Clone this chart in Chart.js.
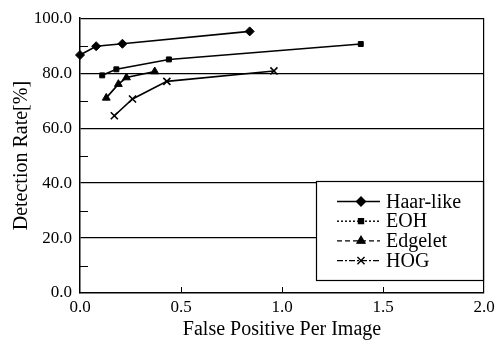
<!DOCTYPE html>
<html>
<head>
<meta charset="utf-8">
<script src="https://cdn.jsdelivr.net/npm/chart.js@4/dist/chart.umd.min.js"></script>
<style>
  html, body { margin: 0; padding: 0; background: #fff; }
  #wrap { width: 503px; height: 345px; }
</style>
</head>
<body>
<div id="wrap"><canvas id="chart" width="503" height="345"></canvas></div>
<script>
// values
const seriesNames = ['Haar-like', 'EOH', 'Edgelet', 'HOG'];
const haarX = [0.0, 0.08, 0.21, 0.84];
const haarY = [86.6, 89.8, 90.7, 95.2];
const eohX = [0.11, 0.18, 0.44, 1.39];
const eohY = [79.2, 81.4, 85.0, 90.6];
const edgeletX = [0.13, 0.19, 0.23, 0.37];
const edgeletY = [71.0, 76.0, 78.4, 80.6];
const hogX = [0.17, 0.26, 0.43, 0.96];
const hogY = [64.5, 70.6, 77.0, 80.8];
const xTicks = [0, 0.5, 1.0, 1.5, 2.0];
const yTicks = [0, 20, 40, 60, 80, 100];

const serif = "'Liberation Serif', 'DejaVu Serif', serif";
const styles = [
  { point: 'rectRot', radius: 4.5, dash: [] },
  { point: 'rect', radius: 3.5, dash: [2, 2] },
  { point: 'triangle', radius: 4.5, dash: [5, 3] },
  { point: 'crossRot', radius: 5, dash: [6, 2, 2, 2] }
];

function pts(xs, ys) {
  return xs.map((x, i) => ({ x: x, y: ys[i] }));
}
const allX = [haarX, eohX, edgeletX, hogX];
const allY = [haarY, eohY, edgeletY, hogY];

const datasets = seriesNames.map((name, i) => ({
  label: name,
  data: pts(allX[i], allY[i]),
  showLine: true,
  borderColor: '#000',
  backgroundColor: '#000',
  borderWidth: 1.6,
  pointStyle: styles[i].point,
  pointRadius: styles[i].radius,
  pointBorderWidth: styles[i].point === 'crossRot' ? 1.6 : 1,
  clip: false
}));

// inner tick marks + legend box
const extras = {
  id: 'extras',
  afterDraw(chart) {
    const ctx = chart.ctx;
    const xs = chart.scales.x, ys = chart.scales.y;
    const area = chart.chartArea;
    ctx.save();
    ctx.strokeStyle = '#000';
    ctx.lineWidth = 1;
    [10, 30, 50, 70, 90].forEach(v => {
      const y = Math.round(ys.getPixelForValue(v)) + 0.5;
      ctx.beginPath();
      ctx.moveTo(area.left, y);
      ctx.lineTo(area.left + 8, y);
      ctx.stroke();
    });
    [0.5, 1.0, 1.5].forEach(v => {
      const x = Math.round(xs.getPixelForValue(v)) + 0.5;
      ctx.beginPath();
      ctx.moveTo(x, area.bottom);
      ctx.lineTo(x, area.bottom - 6);
      ctx.stroke();
    });

    // legend
    const bx = 316.5, by = 181.5, bw = 167, bh = 99;
    ctx.fillStyle = '#fff';
    ctx.fillRect(bx, by, bw, bh);
    ctx.lineWidth = 1.2;
    ctx.strokeRect(bx, by, bw, bh);
    ctx.font = '20px ' + serif;
    ctx.textBaseline = 'middle';
    ctx.textAlign = 'left';
    seriesNames.forEach((name, i) => {
      const y = 201.5 + i * 19.7;
      ctx.setLineDash(styles[i].dash);
      ctx.lineWidth = 1.4;
      ctx.beginPath();
      ctx.moveTo(337, y);
      ctx.lineTo(380, y);
      ctx.stroke();
      ctx.setLineDash([]);
      Chart.helpers.drawPoint(ctx, {
        pointStyle: styles[i].point,
        radius: styles[i].radius,
        borderWidth: styles[i].point === 'crossRot' ? 1.6 : 1
      }, 361, y);
      ctx.fillStyle = '#000';
      ctx.fill();
      ctx.fillText(name, 386, y + 1);
    });
    ctx.restore();
  }
};

new Chart(document.getElementById('chart'), {
  type: 'scatter',
  data: { datasets: datasets },
  options: {
    responsive: false,
    animation: false,
    layout: { padding: { left: 0, right: 19, top: 15, bottom: 0 } },
    plugins: { legend: { display: false }, tooltip: { enabled: false } },
    scales: {
      x: {
        type: 'linear',
        min: 0, max: 2,
        afterFit: s => { s.height = 52; },
        afterBuildTicks: s => { s.ticks = xTicks.map(v => ({ value: v })); },
        ticks: {
          color: '#000', padding: 4, maxRotation: 0,
          font: { family: serif, size: 17 },
          callback: v => v.toFixed(1)
        },
        grid: {
          drawTicks: false,
          color: c => c.tick && c.tick.value === 2 ? '#000' : 'rgba(0,0,0,0)',
          lineWidth: 1.2
        },
        border: { color: '#000', width: 1.5 },
        title: {
          display: true, text: 'False Positive Per Image', color: '#000',
          font: { family: serif, size: 20 }, padding: { top: 0, bottom: 3 }
        }
      },
      y: {
        type: 'linear',
        min: 0, max: 100,
        afterFit: s => { s.width = 80; },
        afterBuildTicks: s => { s.ticks = yTicks.map(v => ({ value: v })); },
        ticks: {
          color: '#000', padding: 8,
          font: { family: serif, size: 17 },
          callback: v => v.toFixed(1)
        },
        grid: {
          drawTicks: false,
          color: c => c.tick && c.tick.value > 0 ? '#000' : 'rgba(0,0,0,0)',
          lineWidth: 1.2
        },
        border: { color: '#000', width: 1.5 },
        title: {
          display: true, text: 'Detection Rate[%]', color: '#000',
          font: { family: serif, size: 20 }, padding: { top: 10, bottom: 0 }
        }
      }
    }
  },
  plugins: [extras]
});
</script>
</body>
</html>
